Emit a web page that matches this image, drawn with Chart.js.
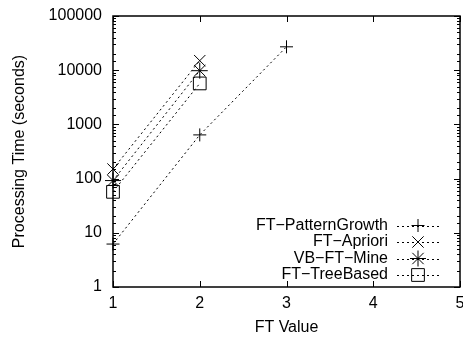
<!DOCTYPE html>
<html>
<head>
<meta charset="utf-8">
<script src="https://cdn.jsdelivr.net/npm/chart.js@4/dist/chart.umd.min.js"></script>
<style>
  html, body { margin: 0; padding: 0; background: #fff; }
</style>
</head>
<body>
<canvas id="chart" width="463" height="338"></canvas>
<script>
'use strict';

let ftValues = [1, 2, 3];
let seriesNames = ['FT\u2212PatternGrowth', 'FT\u2212Apriori', 'VB\u2212FT\u2212Mine', 'FT\u2212TreeBased'];
let patternGrowth = [6.2, 640, 27000];
let apriori = [150, 15000];
let vbFtMine = [92, 9800];
let treeBased = [57, 5700];
let markers = ['cross', 'crossRot', 'star', 'rect'];
let markerSizes = [6.5, 8, 8, 9];
let yTickValues = [1, 10, 100, 1000, 10000, 100000];
let xTickValues = [1, 2, 3, 4, 5];

const FONT = 'Liberation Sans, Arial, Helvetica, sans-serif';
const FONT_SIZE = 16;

function toPoints(values) {
  return values.map(function(v, i) { return { x: ftValues[i], y: v }; });
}

let allSeries = [patternGrowth, apriori, vbFtMine, treeBased];
let datasets = [];
for (let i = 0; i < allSeries.length; i++) {
  datasets.push({
    label: seriesNames[i],
    data: toPoints(allSeries[i]),
    borderColor: '#000',
    backgroundColor: 'rgba(0,0,0,0)',
    borderWidth: 1,
    borderDash: [2, 3],
    pointStyle: markers[i],
    pointRadius: markerSizes[i],
    pointBorderWidth: 1,
    pointBorderColor: '#000',
    pointBackgroundColor: 'rgba(0,0,0,0)',
    tension: 0,
    clip: false
  });
}

// frame, inward ticks and the gnuplot-like key
const framePlugin = {
  id: 'frame',
  afterDraw(chart) {
    const ctx = chart.ctx;
    const a = chart.chartArea;
    const xs = chart.scales.x;
    const ys = chart.scales.y;
    ctx.save();
    ctx.strokeStyle = '#000';
    ctx.lineWidth = 1.5;
    ctx.setLineDash([]);
    ctx.strokeRect(a.left, a.top, a.right - a.left, a.bottom - a.top);

    ctx.lineWidth = 1;
    ctx.beginPath();
    xTickValues.forEach(function(v) {
      const px = Math.round(xs.getPixelForValue(v)) + 0.5;
      ctx.moveTo(px, a.bottom); ctx.lineTo(px, a.bottom - 6);
      ctx.moveTo(px, a.top); ctx.lineTo(px, a.top + 6);
    });
    ys.ticks.forEach(function(t) {
      const py = Math.round(ys.getPixelForValue(t.value)) + 0.5;
      const l = Math.log10(t.value);
      const len = Math.abs(l - Math.round(l)) < 1e-9 ? 6 : 3;
      ctx.moveTo(a.left, py); ctx.lineTo(a.left + len, py);
      ctx.moveTo(a.right, py); ctx.lineTo(a.right - len, py);
    });
    ctx.stroke();

    // key
    const textRight = a.right - 72;
    const lineL = a.right - 63;
    const lineR = a.right - 20;
    const markX = a.right - 42;
    const rowGap = 16.5;
    ctx.font = FONT_SIZE + 'px ' + FONT;
    ctx.textAlign = 'right';
    ctx.textBaseline = 'middle';
    for (let i = 0; i < datasets.length; i++) {
      const y = a.bottom - 12 - (datasets.length - 1 - i) * rowGap;
      ctx.fillStyle = '#000';
      ctx.fillText(seriesNames[i], textRight, y);
      ctx.setLineDash([2, 3]);
      ctx.beginPath();
      ctx.moveTo(lineL, Math.round(y) + 0.5);
      ctx.lineTo(lineR, Math.round(y) + 0.5);
      ctx.stroke();
      ctx.setLineDash([]);
      ctx.fillStyle = 'rgba(0,0,0,0)';
      Chart.helpers.drawPoint(ctx, {
        pointStyle: markers[i],
        radius: markerSizes[i],
        rotation: 0,
        borderWidth: 1
      }, markX, y);
    }
    ctx.restore();
  }
};

const ctx = document.getElementById('chart');
new Chart(ctx, {
  type: 'line',
  data: { datasets: datasets },
  plugins: [framePlugin],
  options: {
    responsive: false,
    animation: false,
    layout: { autoPadding: false, padding: { top: 16, right: 3, left: 0, bottom: 0 } },
    plugins: {
      legend: { display: false },
      tooltip: { enabled: false }
    },
    scales: {
      x: {
        type: 'linear',
        min: 1,
        max: 5,
        afterFit: function(scale) {
          scale.height = 51;
          scale.paddingRight = 0;
          scale.paddingLeft = 0;
        },
        grid: { display: false, drawTicks: false },
        border: { display: false },
        ticks: {
          stepSize: 1,
          padding: 7,
          color: '#000',
          font: { family: FONT, size: FONT_SIZE }
        },
        title: {
          display: true,
          text: 'FT Value',
          color: '#000',
          padding: { top: 0, bottom: 1 },
          font: { family: FONT, size: FONT_SIZE }
        }
      },
      y: {
        type: 'logarithmic',
        min: 1,
        max: 100000,
        afterFit: function(scale) {
          scale.width = 113;
          scale.paddingTop = 0;
          scale.paddingBottom = 0;
        },
        grid: { display: false, drawTicks: false },
        border: { display: false },
        ticks: {
          autoSkip: false,
          padding: 11,
          color: '#000',
          font: { family: FONT, size: FONT_SIZE },
          callback: function(v) {
            return yTickValues.indexOf(v) >= 0 ? String(v) : '';
          }
        },
        title: {
          display: true,
          text: 'Processing Time (seconds)',
          color: '#000',
          padding: { top: 10, bottom: 0 },
          font: { family: FONT, size: FONT_SIZE }
        }
      }
    }
  }
});
</script>
</body>
</html>
